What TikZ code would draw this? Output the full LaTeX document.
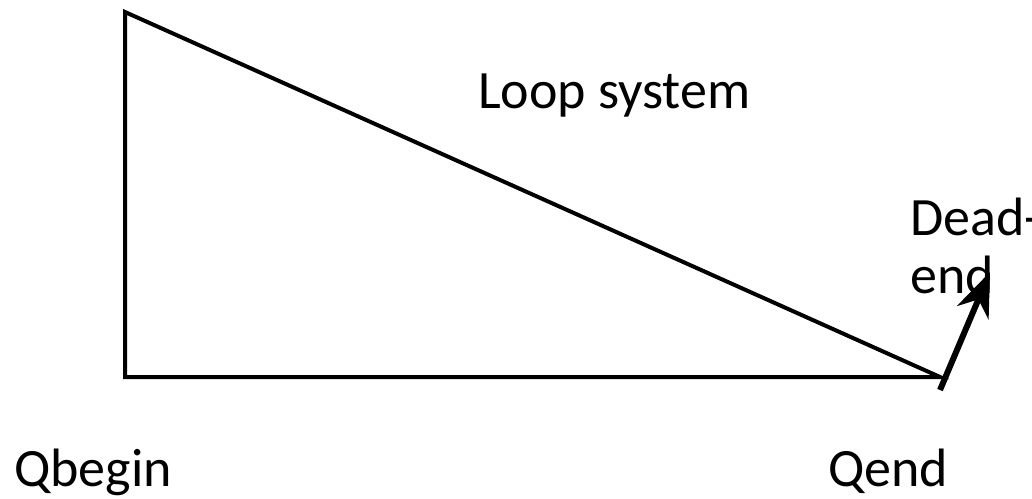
\documentclass[tikz,border=0pt]{standalone}
\usepackage{fontspec}
\setmainfont{Carlito}
\usetikzlibrary{arrows.meta,positioning}
\tikzset{
  sideline/.style={line width=4pt, draw=black},
  deadarrow/.style={-{Stealth[length=44pt, width=34pt]}, line width=6pt, draw=black},
  textlabel/.style={inner sep=0pt, anchor=base west, align=left, font=\fontsize{54}{58}\selectfont}
}
\begin{document}
\begin{tikzpicture}[x=1pt, y=-1pt]
    \useasboundingbox (0,0) rectangle (1032,498);
    \coordinate (top) at (125,12);
    \coordinate (begin) at (125,377);
    \coordinate (end) at (940,377);
    \coordinate (tail) at (940,390);
    \coordinate (tip) at (990,272);

    \node[textlabel] (loop) at (478,108) {Loop system};
    \node[textlabel] (dead) at (910,293) {Dead-\\end};
    \node[textlabel] (qbegin) at (14,486) {Qbegin};
    \node[textlabel] (qend) at (828,486) {Qend};

    \draw[sideline, line join=miter] (top) -- (begin) -- (end) -- cycle;
    \draw[deadarrow] (tail) -- (tip);
  \end{tikzpicture}
\end{document}
